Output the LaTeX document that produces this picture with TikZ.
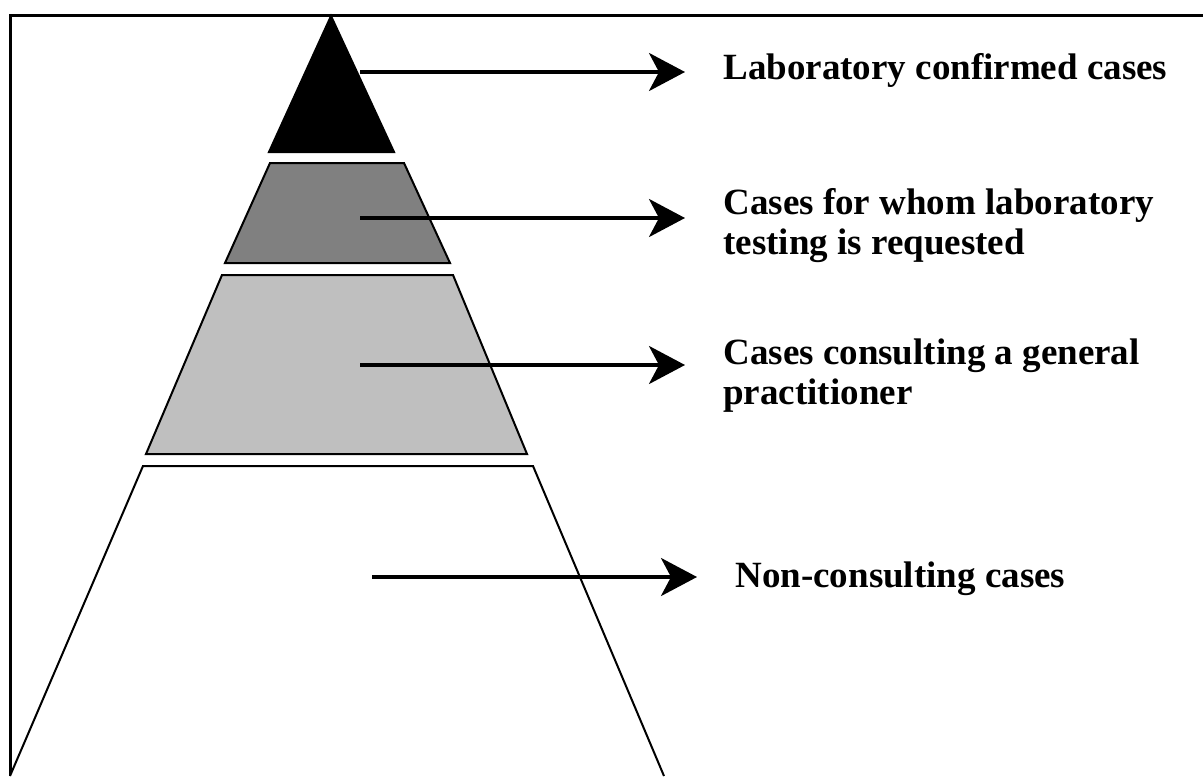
\documentclass[tikz,border=0pt]{standalone}
\usepackage{fontspec}
\setmainfont{Liberation Serif}
\usetikzlibrary{arrows.meta,positioning}

\begin{document}
\begin{tikzpicture}[x=0.5pt,y=-0.5pt,tier/.style={draw=black,line width=1pt,fill=#1},arrow/.style={-{Stealth[length=18pt,width=19pt,inset=5pt]},line width=1.8pt,shorten >=19pt},tiertext/.style={anchor=base west,inner sep=0pt,align=left,font=\bfseries\fontsize{18.5}{20}\selectfont}]
\useasboundingbox (0,0) rectangle (1203,776);
\draw[line width=1.5pt] (10,776) |- (1203,15);
% pyramid tiers
\draw[tier=black] (331,16) -- (394,152) -- (269,152) -- cycle;
\draw[tier=black!50] (270,163) -- (404,163) -- (450,263) -- (225,263) -- cycle;
\draw[tier=black!25] (222,275) -- (453,275) -- (527,454) -- (146,454) -- cycle;
\draw[tier=white] (10,776) -- (143,466) -- (533,466) -- (664,776);
% labels (base = last line)
\node[tiertext] (confirmed) at (723,79) {Laboratory confirmed cases};
\node[tiertext] (tested) at (723,254) {Cases for whom laboratory\\testing is requested};
\node[tiertext] (consulting) at (723,404) {Cases consulting a general\\practitioner};
\node[tiertext] (nonconsulting) at (735,587) {Non-consulting cases};
\coordinate (confirmed-in) at (360,72);
\coordinate (tested-in) at (360,218);
\coordinate (consulting-in) at (360,365);
\coordinate (nonconsulting-in) at (372,577);
\draw[arrow] (confirmed-in) -- (confirmed-in -| confirmed.west);
\draw[arrow] (tested-in) -- (tested-in -| tested.west);
\draw[arrow] (consulting-in) -- (consulting-in -| consulting.west);
\draw[arrow] (nonconsulting-in) -- (nonconsulting-in -| nonconsulting.west);
\end{tikzpicture}
\end{document}
